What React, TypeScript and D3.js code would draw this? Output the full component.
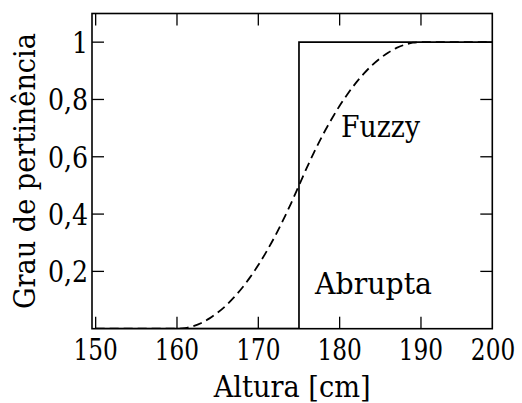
import React from "react";
import * as d3 from "d3";

const xTicks = [150, 160, 170, 180, 190, 200];
const yTicks = [0.2, 0.4, 0.6, 0.8, 1];
const yTickLabels = ["0,2", "0,4", "0,6", "0,8", "1"];

// Abrupt (crisp) membership
const crispX = [150, 175, 175, 200];
const crispY = [0, 0, 1, 1];

// Fuzzy membership
const fuzzyX = [150, 155, 160, 161, 162, 163, 164, 165, 166, 167, 168, 169, 170, 171, 172, 173, 174, 175, 176, 177, 178, 179, 180, 181, 182, 183, 184, 185, 186, 187, 188, 189, 190, 195, 200];
const fuzzyY = [0, 0, 0, 0.002, 0.009, 0.02, 0.036, 0.056, 0.08, 0.109, 0.142, 0.18, 0.222, 0.269, 0.32, 0.376, 0.436, 0.5, 0.564, 0.624, 0.68, 0.731, 0.778, 0.82, 0.858, 0.891, 0.92, 0.944, 0.964, 0.98, 0.991, 0.998, 1, 1, 1];

const W = 522;
const H = 403;
const left = 92;
const right = 492.3;
const top = 13.5;
const bottom = 328.7;

const FONT = '"DejaVu Serif", serif';

export default function App() {
  const x = d3.scaleLinear().domain([149.55, 198.77]).range([left, right]);
  const y = d3.scaleLinear().domain([0, 1.1]).range([bottom, top]);

  const line = d3
    .line<[number, number]>()
    .x((d) => x(d[0]))
    .y((d) => y(d[1]));

  const crisp = line(crispX.map((v, i) => [v, crispY[i]] as [number, number])) || "";
  const fuzzy = line.curve(d3.curveMonotoneX)(
    fuzzyX.map((v, i) => [v, fuzzyY[i]] as [number, number])
  ) || "";

  const tickLen = 12;
  const ts: React.CSSProperties = { fontFamily: FONT, fontSize: 29 };

  return (
    <svg
      width={W}
      height={H}
      style={{ position: "absolute", left: 0, top: 0, background: "#fff" }}
    >
      <defs>
        <clipPath id="plotclip">
          <rect x={left} y={top} width={right - left} height={bottom - top} />
        </clipPath>
      </defs>
      <g clipPath="url(#plotclip)">
        <path d={fuzzy} fill="none" stroke="#000" strokeWidth={1.8} strokeDasharray="9,5" />
        <path d={crisp} fill="none" stroke="#000" strokeWidth={1.7} />
      </g>
      {xTicks
        .filter((t) => x(t) > left + 1 && x(t) < right - 1)
        .map((t) => (
          <g key={"xt" + t}>
            <line x1={x(t)} x2={x(t)} y1={bottom} y2={bottom - tickLen} stroke="#000" strokeWidth={1.3} />
            <line x1={x(t)} x2={x(t)} y1={top} y2={top + tickLen} stroke="#000" strokeWidth={1.3} />
          </g>
        ))}
      {yTicks.map((t) => (
        <g key={"yt" + t}>
          <line x1={left} x2={left + tickLen} y1={y(t)} y2={y(t)} stroke="#000" strokeWidth={1.3} />
          <line x1={right} x2={right - tickLen} y1={y(t)} y2={y(t)} stroke="#000" strokeWidth={1.3} />
        </g>
      ))}
      <rect x={left} y={top} width={right - left} height={bottom - top} fill="none" stroke="#000" strokeWidth={1.6} />
      {xTicks.map((t) => (
        <text
          key={"xl" + t}
          transform={`translate(${Math.max(92, Math.min(x(t), 493))},360) scale(0.8,1)`}
          style={ts}
          textAnchor="middle"
        >
          {t}
        </text>
      ))}
      {yTickLabels.map((lab, i) => (
        <text
          key={"yl" + lab}
          transform={`translate(88,${y(yTicks[i]) + 11}) scale(0.87,1)`}
          style={ts}
          textAnchor="end"
        >
          {lab}
        </text>
      ))}
      <text x={(left + right) / 2} y={397} style={ts} textAnchor="middle" textLength={157} lengthAdjust="spacingAndGlyphs">
        Altura [cm]
      </text>
      <text
        transform={`translate(35,${(top + bottom) / 2}) rotate(-90)`}
        style={ts}
        textAnchor="middle"
        textLength={276}
        lengthAdjust="spacingAndGlyphs"
      >
        Grau de pertinência
      </text>
      <text x={341} y={137} style={ts} textLength={79} lengthAdjust="spacingAndGlyphs">
        Fuzzy
      </text>
      <text x={315} y={294} style={ts} textLength={117} lengthAdjust="spacingAndGlyphs">
        Abrupta
      </text>
    </svg>
  );
}
